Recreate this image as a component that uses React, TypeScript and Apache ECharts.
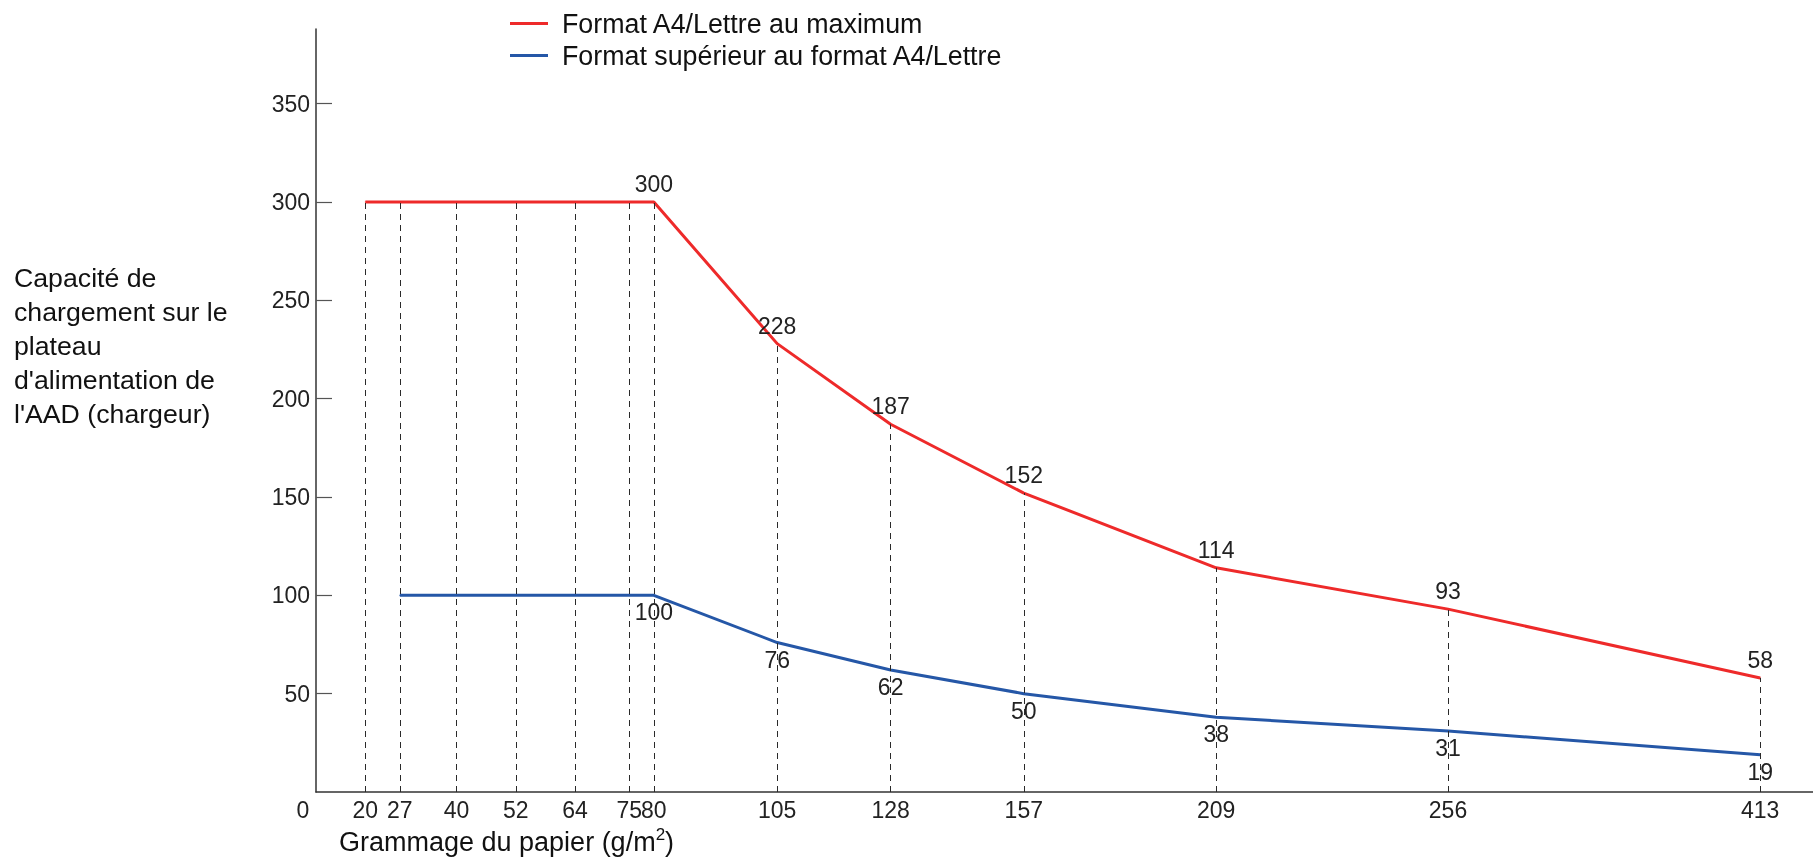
import React, { useEffect, useRef } from 'react';
import * as echarts from 'echarts';

// Paper weight (g/m²) at each tick
const weights = [20, 27, 40, 52, 64, 75, 80, 105, 128, 157, 209, 256, 413];
// Capacity, A4/Letter max
const a4Max = [300, 300, 300, 300, 300, 300, 300, 228, 187, 152, 114, 93, 58];
// Capacity, larger than A4/Letter (no value at 20 g/m²)
const overA4 = [null, 100, 100, 100, 100, 100, 100, 76, 62, 50, 38, 31, 19];
const labelledFrom = 6; // values are printed from 80 g/m² on
const yTicks = [50, 100, 150, 200, 250, 300, 350];
const xTickLabels = [0, 20, 27, 40, 52, 64, 75, 80, 105, 128, 157, 209, 256, 413];
const seriesNames = ['Format A4/Lettre au maximum', 'Format supérieur au format A4/Lettre'];
const yTitle = "Capacité de\nchargement sur le\nplateau\nd'alimentation de\nl'AAD (chargeur)";
const xTitle = ['Grammage du papier (g/m', '2', ')'];
// The drawing's x scale is not uniform: these axis breaks reproduce its compressed stretches
const xBreaks = [
  { start: 4, end: 14, gap: 0 },
  { start: 30, end: 31.5, gap: 0 },
  { start: 135, end: 137, gap: 0 },
  { start: 170, end: 183, gap: 0 },
  { start: 290, end: 383.7, gap: 0 },
];

const FONT = '"Liberation Sans", Arial, sans-serif';
const RED = '#ee2a2a';
const BLUE = '#2557a7';

export default function App() {
  const ref = useRef<HTMLDivElement>(null);
  useEffect(() => {
    if (!ref.current) return;
    const chart = echarts.init(ref.current, undefined, { renderer: 'svg' });
    const redData = weights.map((w, i) => ({
      value: [w, a4Max[i]],
      label: { show: i >= labelledFrom },
    }));
    const blueData = weights
      .map((w, i) => ({ value: [w, overA4[i]], label: { show: i >= labelledFrom } }))
      .filter((d) => d.value[1] != null);
    const guides = weights.map((w, i) => [{ coord: [w, 0] }, { coord: [w, a4Max[i]] }]);

    chart.setOption({
      animation: false,
      textStyle: { fontFamily: FONT },
      grid: { left: 316, right: 0, top: 29, bottom: 66, containLabel: false },
      legend: {
        orient: 'vertical',
        left: 510,
        top: 10,
        padding: 0,
        itemWidth: 38,
        itemHeight: 3,
        itemGap: 5,
        icon: 'rect',
        data: seriesNames,
        textStyle: { fontSize: 26.8, color: '#111', fontFamily: FONT, padding: [0, 0, 0, 9] },
      },
      xAxis: [
        {
          type: 'value',
          min: 0,
          max: 423.7,
          breaks: xBreaks,
          breakArea: {
            show: false,
            itemStyle: { opacity: 0, borderWidth: 0 },
            zigzagAmplitude: 0,
          },
          axisLine: { show: false },
          axisTick: { show: false },
          splitLine: { show: false },
          axisLabel: {
            customValues: xTickLabels,
            fontSize: 23,
            color: '#222',
            margin: 6,
            formatter: (v: number) => (v === 0 ? '{o|0}' : String(v)),
            rich: { o: { fontSize: 23, color: '#222', padding: [0, 26, 0, 0], fontFamily: FONT } },
          },
        },
        {
          // plain continuous baseline for the x axis
          type: 'value',
          position: 'bottom',
          min: 0,
          max: 1,
          axisLine: { show: true, onZero: false, lineStyle: { color: '#333', width: 1.5 } },
          axisTick: { show: false },
          axisLabel: { show: false },
          splitLine: { show: false },
        },
      ],
      yAxis: {
        type: 'value',
        min: 0,
        max: 388,
        axisLine: { show: true, lineStyle: { color: '#333', width: 1.5 } },
        axisTick: { show: true, inside: true, length: 16, customValues: yTicks, lineStyle: { color: '#555', width: 1.2 } },
        axisLabel: { customValues: yTicks, fontSize: 23, color: '#222', margin: 6 },
        splitLine: { show: false },
      },
      series: [
        {
          name: 'guides',
          type: 'line',
          data: [],
          z: 1,
          silent: true,
          markLine: {
            silent: true,
            symbol: ['none', 'none'],
            label: { show: false },
            lineStyle: { type: [6, 5], color: '#2a2a2a', width: 1 },
            data: guides,
          },
        },
        {
          name: seriesNames[0],
          type: 'line',
          z: 3,
          data: redData,
          symbol: 'circle',
          symbolSize: 1,
          itemStyle: { color: RED },
          lineStyle: { color: RED, width: 3 },
          label: { position: 'top', distance: 6, fontSize: 23, color: '#222' },
        },
        {
          name: seriesNames[1],
          type: 'line',
          z: 3,
          data: blueData,
          symbol: 'circle',
          symbolSize: 1,
          itemStyle: { color: BLUE },
          lineStyle: { color: BLUE, width: 3 },
          label: { position: 'bottom', distance: 5, fontSize: 23, color: '#222' },
        },
      ],
      graphic: [
        {
          type: 'text',
          left: 14,
          top: 261,
          style: { text: yTitle, font: `26.7px ${FONT}`, fill: '#111', lineHeight: 34 },
        },
        {
          type: 'text',
          left: 339,
          top: 826,
          style: {
            text: `{t|${xTitle[0]}}{s|${xTitle[1]}}{t|${xTitle[2]}}`,
            rich: {
              t: { fontSize: 27, fontFamily: FONT, fill: '#111', lineHeight: 32 },
              s: { fontSize: 17, fontFamily: FONT, fill: '#111', verticalAlign: 'top', lineHeight: 17 },
            },
          },
        },
      ],
    });
    return () => chart.dispose();
  }, []);
  return <div ref={ref} style={{ position: 'fixed', left: 0, top: 0, width: 1813, height: 858 }} />;
}
